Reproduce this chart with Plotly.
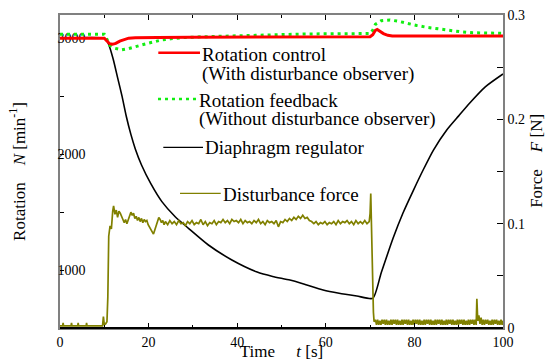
import plotly.graph_objects as go

FONT = "Liberation Serif, Times New Roman, serif"

# ---- axis ticks ----
x_ticks = [0, 20, 40, 60, 80, 100]
x_ticklabels = ["0", "20", "40", "60", "80", "100"]
x_minor = [10, 30, 50, 70, 90]
yl_ticks = [1000, 2000, 3000]
yl_ticklabels = ["1000", "2000", "3000"]
yl_minor = [1500, 2500]
yr_ticks = [0, 0.1, 0.2, 0.3]
yr_ticklabels = ["0", "0.1", "0.2", "0.3"]
yr_minor = [0.05, 0.15, 0.25]

# ---- Rotation control (with disturbance observer) ----
red_t = [0, 10, 10.6, 11.2, 11.8, 12.6, 13.5, 14.5, 15.5, 17, 19, 22, 30, 40, 50, 60, 70,
         70.6, 71.2, 71.6, 72.2, 73, 74, 75, 80, 90, 100]
red_N = [3000, 3000, 2975, 2952, 2947, 2955, 2975, 2990, 3000, 3003, 3005, 3006, 3008, 3010, 3010, 3012, 3013,
         3030, 3068, 3075, 3060, 3040, 3025, 3018, 3018, 3018, 3018]

# ---- Rotation feedback (without disturbance observer) ----
green_t = [0, 10, 10.5, 11.2, 12.4, 13.9, 15.5, 16.9, 18.5, 19.9, 21.5, 22.9, 25, 27.4, 32, 38, 45, 55, 60, 70,
           70.6, 71.2, 72.5, 74.5, 76.5, 78.2, 80.5, 82.8, 85.5, 88, 90.5, 93.2, 96, 100]
green_N = [3035, 3035, 3000, 2940, 2913, 2899, 2910, 2927, 2942, 2956, 2970, 2984, 2995, 3004, 3012, 3019, 3030, 3036, 3038, 3040,
           3070, 3120, 3150, 3157, 3145, 3128, 3110, 3094, 3078, 3065, 3055, 3047, 3044, 3042]

# ---- Diaphragm regulator ----
black_t = [0, 10, 10.5, 11, 12, 13, 14, 15, 16, 17, 18.4, 20.5, 23, 26, 29, 33.5, 38.8, 44.5, 48, 51.9, 55, 59.4, 63, 67, 70.6,
           72.5, 75.2, 77.4, 79.8, 82, 84.3, 87.3, 90, 92.5, 96, 100]
black_N = [3000, 3000, 2985, 2945, 2820, 2660, 2500, 2320, 2170, 2045, 1906, 1745, 1590, 1460, 1360, 1216, 1087, 983, 945, 914, 880, 828, 800, 776, 756,
           975, 1276, 1490, 1690, 1865, 2035, 2208, 2330, 2441, 2580, 2691]

# ---- Disturbance force ----
force_t = [0, 0.6, 0.7, 0.8, 2.5, 2.6, 2.7, 4.0, 4.1, 4.2, 5.9, 6.0, 6.1, 9.6, 9.8, 10.0, 10.3, 10.6, 10.8,
           11.0, 11.3, 11.6, 11.9, 12.1, 12.4, 12.7, 13.0, 13.3, 13.6, 13.9, 14.2, 14.5, 14.8, 15.1, 15.4, 15.7, 16.0,
           16.3, 16.6, 16.9, 17.2, 17.5, 17.8, 18.1, 18.4, 18.7, 19.0, 19.3, 19.6, 19.9, 20.2, 20.5, 20.8, 21.1, 21.4,
           21.7, 22.0, 22.3, 22.6, 22.9, 23.2, 23.5, 23.8,
           24.3, 24.8, 25.3, 25.8, 26.3, 26.8, 27.3, 27.8, 28.3, 28.8, 29.3, 29.8, 30.3, 30.8, 31.3, 31.8, 32.3, 32.8,
           33.3, 33.8, 34.3, 34.8, 35.3, 35.8, 36.3, 36.8, 37.3, 37.8, 38.3, 38.8, 39.3, 39.8, 40.3, 40.8, 41.3, 41.8,
           42.3, 42.8, 43.3, 43.8, 44.3, 44.8, 45.3, 45.8, 46.3, 46.8, 47.3, 47.8, 48.3, 48.8, 49.3, 49.8, 50.3, 50.8,
           51.3, 51.8, 52.3, 52.8, 53.3, 53.8, 54.3, 54.8, 55.3, 55.8, 56.3, 56.8, 57.3, 57.8, 58.3, 58.8, 59.3, 59.8,
           60.3, 60.8, 61.3, 61.8, 62.3, 62.8, 63.3, 63.8, 64.3, 64.8, 65.3, 65.8, 66.3, 66.8, 67.3, 67.8, 68.3, 68.8,
           69.3, 69.8, 70.0, 70.15, 70.3, 70.45, 70.6, 70.75, 70.9,
           71.2, 71.45, 71.7, 71.95, 72.2, 72.45, 72.7, 72.95, 73.2, 73.45, 73.7, 73.95, 74.2, 74.45, 74.7, 74.95,
           75.2, 75.45, 75.7, 75.95, 76.2, 76.45, 76.7, 76.95, 77.2, 77.45, 77.7, 77.95, 78.2, 78.45, 78.7, 78.95,
           79.2, 79.45, 79.7, 79.95, 80.2, 80.45, 80.7, 80.95, 81.2, 81.45, 81.7, 81.95, 82.2, 82.45, 82.7, 82.95,
           83.2, 83.45, 83.7, 83.95, 84.2, 84.45, 84.7, 84.95, 85.2, 85.45, 85.7, 85.95, 86.2, 86.45, 86.7, 86.95,
           87.2, 87.45, 87.7, 87.95, 88.2, 88.45, 88.7, 88.95, 89.2, 89.45, 89.7, 89.95, 90.2, 90.45, 90.7, 90.95,
           91.2, 91.45, 91.7, 91.95, 92.2, 92.45, 92.7, 92.95, 93.2, 93.45, 93.7, 93.95,
           94.1, 94.3, 94.55, 94.8, 95.05, 95.3, 95.55, 95.8, 96.05, 96.3, 96.55, 96.8, 97.05, 97.3, 97.55, 97.8,
           98.05, 98.3, 98.55, 98.8, 99.05, 99.3, 99.55, 99.8, 100.0]
force_F = [0.002, 0.002, 0.005, 0.002, 0.002, 0.005, 0.002, 0.002, 0.005, 0.002, 0.002, 0.005, 0.002, 0.002, 0.011, 0.003, 0.004, 0.006, 0.03,
           0.088, 0.098, 0.095, 0.112, 0.117, 0.109, 0.113, 0.106, 0.112, 0.110, 0.106, 0.104, 0.101, 0.104, 0.100, 0.104, 0.108, 0.111,
           0.108, 0.110, 0.105, 0.107, 0.103, 0.106, 0.102, 0.105, 0.101, 0.104, 0.102, 0.103, 0.099, 0.097, 0.094, 0.092, 0.090, 0.094,
           0.098, 0.102, 0.106, 0.104, 0.101, 0.103, 0.099, 0.102,
           0.099, 0.103, 0.100, 0.102, 0.099, 0.103, 0.100, 0.101, 0.098, 0.102, 0.100, 0.103, 0.099, 0.101, 0.100, 0.104, 0.099, 0.102,
           0.098, 0.101, 0.100, 0.103, 0.099, 0.102, 0.101, 0.104, 0.101, 0.103, 0.100, 0.104, 0.102, 0.103, 0.101, 0.104, 0.100, 0.103,
           0.101, 0.102, 0.100, 0.103, 0.101, 0.104, 0.100, 0.102, 0.099, 0.103, 0.101, 0.102, 0.100, 0.103, 0.097, 0.102, 0.101, 0.104,
           0.102, 0.105, 0.103, 0.106, 0.104, 0.107, 0.105, 0.108, 0.105, 0.106, 0.103, 0.102, 0.100, 0.102, 0.099, 0.101, 0.100, 0.102,
           0.099, 0.101, 0.100, 0.102, 0.099, 0.103, 0.100, 0.102, 0.101, 0.103, 0.100, 0.102, 0.099, 0.103, 0.100, 0.102, 0.100, 0.103,
           0.100, 0.102, 0.110, 0.129, 0.095, 0.060, 0.030, 0.015, 0.006,
           0.008, 0.003, 0.008, 0.003, 0.007, 0.003, 0.008, 0.004, 0.008, 0.003, 0.008, 0.003, 0.007, 0.003, 0.008, 0.003,
           0.008, 0.004, 0.008, 0.003, 0.008, 0.003, 0.007, 0.003, 0.008, 0.003, 0.008, 0.004, 0.008, 0.003, 0.008, 0.003,
           0.007, 0.003, 0.008, 0.003, 0.008, 0.004, 0.008, 0.003, 0.008, 0.003, 0.007, 0.003, 0.008, 0.003, 0.008, 0.004,
           0.008, 0.003, 0.008, 0.003, 0.007, 0.003, 0.008, 0.003, 0.008, 0.004, 0.008, 0.003, 0.008, 0.003, 0.007, 0.003,
           0.008, 0.003, 0.008, 0.004, 0.008, 0.003, 0.008, 0.003, 0.007, 0.003, 0.008, 0.003, 0.008, 0.004, 0.008, 0.003,
           0.008, 0.003, 0.007, 0.003, 0.008, 0.003, 0.008, 0.004, 0.008, 0.003, 0.008, 0.003,
           0.028, 0.007, 0.012, 0.004, 0.010, 0.003, 0.008, 0.003, 0.008, 0.004, 0.008, 0.003, 0.007, 0.003, 0.008, 0.003,
           0.008, 0.004, 0.008, 0.003, 0.007, 0.003, 0.008, 0.003, 0.007]
assert len(force_t) == len(force_F)

legend_labels = [["Rotation control", "(With disturbance observer)"],
                 ["Rotation feedback", "(Without disturbance observer)"],
                 ["Diaphragm regulator"],
                 ["Disturbance force"]]

RED = "#ff0000"
GREEN = "#11ee11"
BLACK = "#000000"
OLIVE = "#808000"
GREEN_DASH = "3px,4px"

fig = go.Figure()
fig.add_trace(go.Scatter(x=force_t, y=force_F, mode="lines", yaxis="y2",
                         line=dict(color=OLIVE, width=1.7), showlegend=False))
fig.add_trace(go.Scatter(x=black_t, y=black_N, mode="lines", line=dict(color=BLACK, width=1.6, shape="spline", smoothing=0.6),
                         showlegend=False))
fig.add_trace(go.Scatter(x=green_t, y=green_N, mode="lines", line=dict(color=GREEN, width=3, dash=GREEN_DASH),
                         showlegend=False))
fig.add_trace(go.Scatter(x=red_t, y=red_N, mode="lines", line=dict(color=RED, width=3), showlegend=False))

tickfont = dict(family=FONT, size=14, color="black")
titlefont = dict(family=FONT, size=17, color="black")

fig.update_layout(
    width=548, height=361,
    margin=dict(l=60, r=45, t=15, b=33, autoexpand=False),
    paper_bgcolor="white", plot_bgcolor="white",
    font=dict(family=FONT, color="black"),
    xaxis=dict(range=[0, 100], showgrid=False, zeroline=False, showline=True,
               linecolor="#808080", linewidth=1.5, mirror="ticks",
               ticks="inside", ticklen=5, tickcolor="black", tickwidth=1,
               tickvals=x_ticks, ticktext=x_ticklabels, tickfont=tickfont, tickangle=0,
               minor=dict(ticks="inside", ticklen=3, tickvals=x_minor, tickcolor="black"),
               title=dict(text="Time&nbsp;&nbsp;&nbsp;&nbsp;&nbsp;<i>t</i> [s]", font=titlefont, standoff=4)),
    yaxis=dict(range=[500, 3200], showgrid=False, zeroline=False, showline=True,
               linecolor="#808080", linewidth=1.5, layer="below traces",
               ticks="inside", ticklen=4, tickcolor="black",
               tickvals=yl_ticks, ticktext=yl_ticklabels, tickfont=tickfont,
               ticklabelposition="outside", ticklabelstandoff=-30,
               minor=dict(ticks="inside", ticklen=4, tickvals=yl_minor, tickcolor="black"),
               title=dict(text="Rotation&nbsp;&nbsp;&nbsp;&nbsp;<i>N</i> [min<sup>-1</sup>]", font=titlefont, standoff=28)),
    yaxis2=dict(range=[0, 0.3], overlaying="y", side="right", showgrid=False, zeroline=False, showline=True,
                linecolor="#808080", linewidth=1.5,
                ticks="inside", ticklen=6, tickcolor="black",
                tickvals=yr_ticks, ticktext=yr_ticklabels, tickfont=tickfont,
                minor=dict(ticks="inside", ticklen=6, tickvals=yr_minor, tickcolor="black"),
                title=dict(text="&nbsp;&nbsp;&nbsp;&nbsp;&nbsp;Force&nbsp;&nbsp;&nbsp;&nbsp;<i>F</i> [N]", font=titlefont, standoff=6)),
)

# bottom axis drawn black
fig.add_shape(type="line", xref="paper", yref="paper", x0=0, x1=1, y0=0, y1=0,
              line=dict(color="black", width=2), layer="above")

# ---- hand-placed legend (paper coordinates) ----
legend_styles = [dict(color=RED, width=2.5), dict(color=GREEN, width=2.5, dash=GREEN_DASH),
                 dict(color=BLACK, width=1.2), dict(color=OLIVE, width=1.2)]
sample_x = [(0.2219, 0.3160), (0.2212, 0.3086), (0.2332, 0.3228), (0.2709, 0.3628)]
sample_y = [0.8796, 0.7316, 0.5773, 0.4304]
text_x = [0.3160, 0.3086, 0.3228, 0.3628]
text_y = [[0.8738, 0.8115], [0.7284, 0.6677], [0.5751], [0.4281]]
for i, labels in enumerate(legend_labels):
    fig.add_shape(type="line", xref="paper", yref="paper", x0=sample_x[i][0], x1=sample_x[i][1],
                  y0=sample_y[i], y1=sample_y[i], line=legend_styles[i])
    for j, lab in enumerate(labels):
        fig.add_annotation(xref="paper", yref="paper", x=text_x[i], y=text_y[i][j], text=lab,
                           showarrow=False, xanchor="left", yanchor="middle",
                           font=dict(family=FONT, size=19, color="black"))

fig.write_html("out.html")
